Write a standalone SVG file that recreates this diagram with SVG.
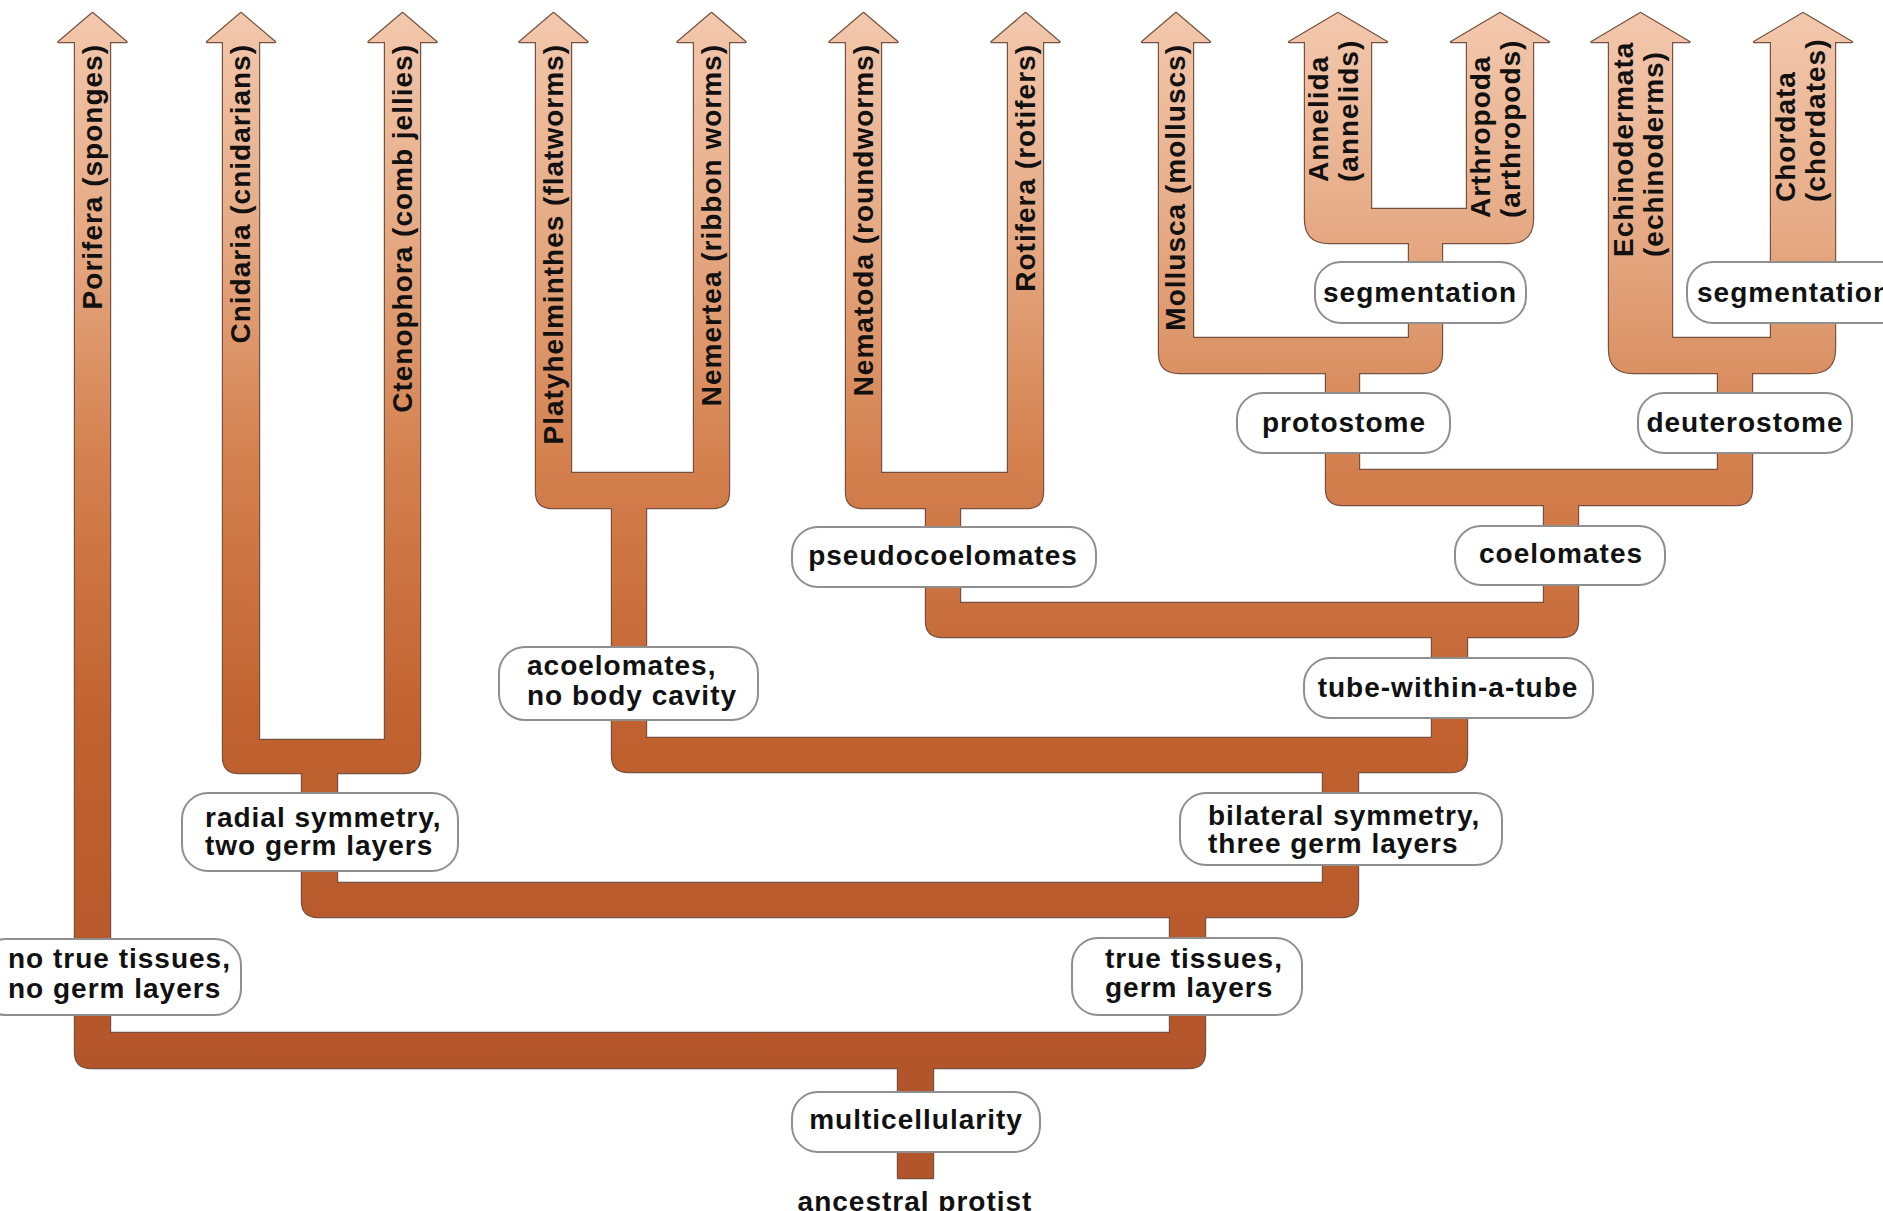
<svg xmlns="http://www.w3.org/2000/svg" xmlns:xlink="http://www.w3.org/1999/xlink" width="1883" height="1211" viewBox="0 0 1883 1211">
<style>
.t{font-family:"Liberation Sans",Arial,Helvetica,sans-serif;font-weight:bold;font-size:28px;letter-spacing:1px;fill:#111}
.lab{fill:#fff;stroke:#8f8f8f;stroke-width:2}
.edge{fill:none;stroke:#74523f;stroke-width:2.4;stroke-linejoin:round}
.body{fill:url(#g);stroke:none}
</style>
<defs>
<linearGradient id="g" gradientUnits="userSpaceOnUse" x1="0" y1="13" x2="0" y2="1068">
<stop offset="0" stop-color="#f3c8ad"/>
<stop offset="0.2" stop-color="#e6ab86"/>
<stop offset="0.42" stop-color="#d4814f"/>
<stop offset="0.68" stop-color="#c0612f"/>
<stop offset="1" stop-color="#b3552a"/>
</linearGradient>
<path id="u1" d="M75,42 H58.5 L92.5,13 L126.5,42 H110 V1033 H1170 V914 H1205 V1052 Q1205,1068 1189,1068 H933 V1178 H898 V1068 H91 Q75,1068 75,1052 Z"/>
<path id="u2" d="M302,770 H337 V883 H1323 V769 H1358 V901 Q1358,917 1342,917 H318 Q302,917 302,901 Z"/>
<path id="u3" d="M223,42 H207 L241,13 L275,42 H259 V740 H385 V42 H368.5 L402.5,13 L436.5,42 H420 V757 Q420,773 404,773 H239 Q223,773 223,757 Z"/>
<path id="u4" d="M612,505 H646 V738 H1432 V634 H1467 V756 Q1467,772 1451,772 H628 Q612,772 612,756 Z"/>
<path id="u5" d="M536,42 H519.5 L553.5,13 L587.5,42 H571 V473 H694 V42 H677.5 L711.5,13 L745.5,42 H729 V492 Q729,508 713,508 H552 Q536,508 536,492 Z"/>
<path id="u6" d="M926,505 H960 V603 H1544 V502 H1578 V621 Q1578,637 1562,637 H942 Q926,637 926,621 Z"/>
<path id="u7" d="M846,42 H829.5 L863.5,13 L897.5,42 H881 V473 H1008 V42 H991.5 L1025.5,13 L1059.5,42 H1043 V492 Q1043,508 1027,508 H862 Q846,508 846,492 Z"/>
<path id="u8" d="M1326,370 H1359 V470 H1718 V370 H1752 V489 Q1752,505 1736,505 H1342 Q1326,505 1326,489 Z"/>
<path id="u9" d="M1159,42 H1142 L1176,13 L1210,42 H1193 V338 H1409 V240 H1442 V353 Q1442,373 1422,373 H1179 Q1159,373 1159,353 Z"/>
<path id="u10" d="M1305,42 H1289 L1338,13 L1387,42 H1371 V209 H1467 V42 H1451 L1500,13 L1549,42 H1533 V219 Q1533,243 1509,243 H1329 Q1305,243 1305,219 Z"/>
<path id="u11" d="M1609,42 H1591.5 L1640.5,13 L1689.5,42 H1672 V338 H1771 V42 H1754 L1803,13 L1852,42 H1835 V349 Q1835,373 1811,373 H1633 Q1609,373 1609,349 Z"/>
</defs>

<g id="connectors">
<g id="outlines">
<use xlink:href="#u1" class="edge"/><use xlink:href="#u2" class="edge"/><use xlink:href="#u3" class="edge"/>
<use xlink:href="#u4" class="edge"/><use xlink:href="#u5" class="edge"/><use xlink:href="#u6" class="edge"/>
<use xlink:href="#u7" class="edge"/><use xlink:href="#u8" class="edge"/><use xlink:href="#u9" class="edge"/>
<use xlink:href="#u10" class="edge"/><use xlink:href="#u11" class="edge"/>
</g>
<g id="fills">
<use xlink:href="#u1" class="body"/><use xlink:href="#u2" class="body"/><use xlink:href="#u3" class="body"/>
<use xlink:href="#u4" class="body"/><use xlink:href="#u5" class="body"/><use xlink:href="#u6" class="body"/>
<use xlink:href="#u7" class="body"/><use xlink:href="#u8" class="body"/><use xlink:href="#u9" class="body"/>
<use xlink:href="#u10" class="body"/><use xlink:href="#u11" class="body"/>
</g>
</g>

<g id="taxon-porifera"><text class="t" text-anchor="end" transform="translate(101.5,44) rotate(-90)">Porifera (sponges)</text></g>
<g id="taxon-cnidaria"><text class="t" text-anchor="end" transform="translate(250,44) rotate(-90)">Cnidaria (cnidarians)</text></g>
<g id="taxon-ctenophora"><text class="t" text-anchor="end" transform="translate(411.5,44) rotate(-90)">Ctenophora (comb jellies)</text></g>
<g id="taxon-platyhelminthes"><text class="t" text-anchor="end" transform="translate(562.5,44) rotate(-90)">Platyhelminthes (flatworms)</text></g>
<g id="taxon-nemertea"><text class="t" text-anchor="end" transform="translate(720.5,44) rotate(-90)">Nemertea (ribbon worms)</text></g>
<g id="taxon-nematoda"><text class="t" text-anchor="end" transform="translate(872.5,44) rotate(-90)">Nematoda (roundworms)</text></g>
<g id="taxon-rotifera"><text class="t" text-anchor="end" transform="translate(1034.5,44) rotate(-90)">Rotifera (rotifers)</text></g>
<g id="taxon-mollusca"><text class="t" text-anchor="end" transform="translate(1185,44) rotate(-90)">Mollusca (molluscs)</text></g>
<g id="taxon-annelida"><text class="t" transform="translate(1328,182) rotate(-90)"><tspan x="0" y="0">Annelida</tspan><tspan x="0" y="30">(annelids)</tspan></text></g>
<g id="taxon-arthropoda"><text class="t" transform="translate(1490,218) rotate(-90)"><tspan x="0" y="0">Arthropoda</tspan><tspan x="0" y="30">(arthropods)</tspan></text></g>
<g id="taxon-echinodermata"><text class="t" transform="translate(1633,257) rotate(-90)"><tspan x="0" y="0">Echinodermata</tspan><tspan x="0" y="30">(echinoderms)</tspan></text></g>
<g id="taxon-chordata"><text class="t" transform="translate(1795,202) rotate(-90)"><tspan x="0" y="0">Chordata</tspan><tspan x="0" y="30">(chordates)</tspan></text></g>

<g id="node-multicellularity"><rect class="lab" x="792" y="1092" width="248" height="60" rx="26"/><text class="t" x="916" y="1129" text-anchor="middle">multicellularity</text></g>
<g id="node-ancestral"><text class="t" x="915" y="1211" text-anchor="middle">ancestral protist</text></g>
<g id="node-no-true-tissues"><rect class="lab" x="-20" y="939" width="261" height="76" rx="26"/><text class="t"><tspan x="8" y="968">no true tissues,</tspan><tspan x="8" y="998">no germ layers</tspan></text></g>
<g id="node-true-tissues"><rect class="lab" x="1072" y="938" width="230" height="77" rx="26"/><text class="t"><tspan x="1105" y="968">true tissues,</tspan><tspan x="1105" y="997">germ layers</tspan></text></g>
<g id="node-radial"><rect class="lab" x="182" y="793" width="276" height="78" rx="26"/><text class="t"><tspan x="205" y="827">radial symmetry,</tspan><tspan x="205" y="855">two germ layers</tspan></text></g>
<g id="node-bilateral"><rect class="lab" x="1180" y="793" width="322" height="72" rx="26"/><text class="t"><tspan x="1208" y="825">bilateral symmetry,</tspan><tspan x="1208" y="853">three germ layers</tspan></text></g>
<g id="node-acoelomates"><rect class="lab" x="499" y="647" width="259" height="73" rx="26"/><text class="t"><tspan x="527" y="675">acoelomates,</tspan><tspan x="527" y="705">no body cavity</tspan></text></g>
<g id="node-tube"><rect class="lab" x="1304" y="658" width="289" height="60" rx="26"/><text class="t" x="1448" y="697" text-anchor="middle">tube-within-a-tube</text></g>
<g id="node-pseudocoelomates"><rect class="lab" x="792" y="527" width="304" height="60" rx="26"/><text class="t" x="943" y="565" text-anchor="middle">pseudocoelomates</text></g>
<g id="node-coelomates"><rect class="lab" x="1455" y="526" width="210" height="59" rx="26"/><text class="t" x="1561" y="563" text-anchor="middle">coelomates</text></g>
<g id="node-protostome"><rect class="lab" x="1237" y="393" width="213" height="60" rx="26"/><text class="t" x="1344" y="432" text-anchor="middle">protostome</text></g>
<g id="node-deuterostome"><rect class="lab" x="1638" y="393" width="214" height="60" rx="26"/><text class="t" x="1745" y="432" text-anchor="middle">deuterostome</text></g>
<g id="node-segmentation-1"><rect class="lab" x="1315" y="262" width="211" height="61" rx="26"/><text class="t" x="1420" y="302" text-anchor="middle">segmentation</text></g>
<g id="node-segmentation-2"><rect class="lab" x="1687" y="262" width="220" height="61" rx="26"/><text class="t" x="1697" y="302">segmentation</text></g>
</svg>
